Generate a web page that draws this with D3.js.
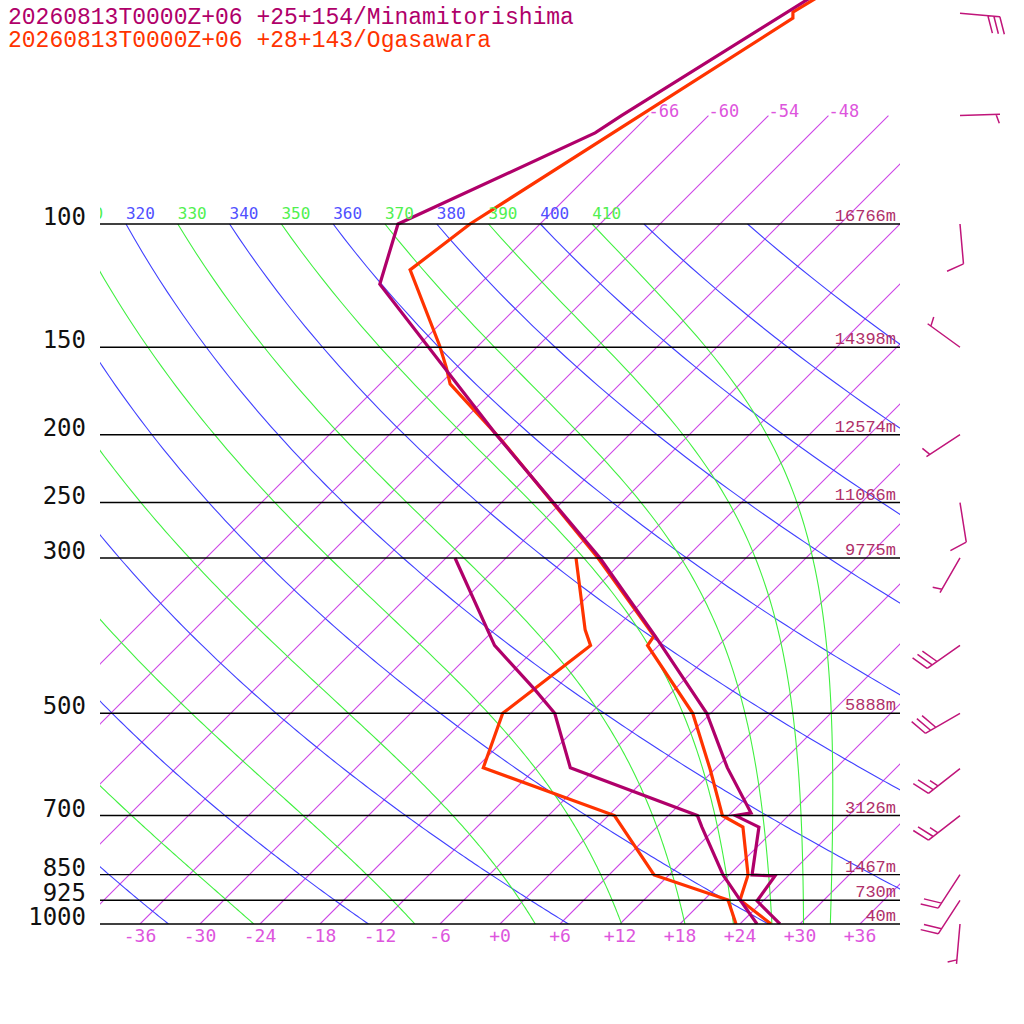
<!DOCTYPE html>
<html><head><meta charset="utf-8">
<script src="https://cdn.jsdelivr.net/npm/d3@7"></script>
<style>body{margin:0;background:#fff}svg{display:block}</style>
</head><body><svg id="c" width="1024" height="1024"></svg>
<script>
// ---- data ----
const titles = ["20260813T0000Z+06 +25+154/Minamitorishima", "20260813T0000Z+06 +28+143/Ogasawara"];
const seriesColors = ["#b0006a", "#ff3300"];
const isobars = [100, 150, 200, 250, 300, 500, 700, 850, 925, 1000];
const heightLevels = [100, 150, 200, 250, 300, 500, 700, 850, 925, 1000];
const heightText = ["16766m", "14398m", "12574m", "11066m", "9775m", "5888m", "3126m", "1467m", "730m", "40m"];
const tempTicks = [-36, -30, -24, -18, -12, -6, 0, 6, 12, 18, 24, 30, 36];
const isotherms = d3.range(-66, 37, 6);
const isothermLabels = [-66, -60, -54, -48];
const dryTheta = [200, 220, 240, 260, 280, 300, 320, 340, 360, 380, 400, 420, 440];
const moistTheta = [230, 250, 270, 290, 310, 330, 350, 370, 390, 410];
const thetaLabels = [310, 320, 330, 340, 350, 360, 370, 380, 390, 400, 410];

// station 1: Minamitorishima
const s1TempP = [46, 70, 74.1, 100, 121.9, 200, 300, 387.7, 500, 598, 694, 700, 727, 851, 854, 927, 1000];
const s1TempT = [-61.0, -68.7, -69.6, -80.2, -76, -49.3, -26.6, -13.3, -0.4, 7.1, 14.0, 12.7, 16.2, 20.3, 22.7, 23.4, 28.0];
const s1DewP = [300, 400, 463, 500, 598, 700, 727, 851, 924, 1000];
const s1DewT = [-41.1, -28.4, -19.9, -15.6, -8.6, 8.9, 10.5, 17.4, 21.6, 25.7];
// station 2: Ogasawara
const s2TempP = [46, 49.8, 50.8, 100, 116.3, 149.1, 160.4, 169.2, 203, 300, 387.7, 400, 500, 602, 700, 727, 851, 924, 1000];
const s2TempT = [-60.3, -61.9, -61.3, -73.0, -74.4, -63.9, -61.0, -59.0, -48.4, -26.8, -13.4, -13.1, -1.8, 5.6, 11.4, 14.6, 19.9, 21.6, 27.1];
const s2DewP = [300, 380, 400, 500, 598, 700, 851, 924, 1000];
const s2DewT = [-29.0, -20.9, -18.8, -20.8, -17.3, 0.6, 10.5, 20.4, 23.6];

// winds (Minamitorishima)
const windP = [50, 70, 100, 150, 200, 250, 300, 400, 500, 600, 700, 850, 925, 1000];
const windDir = [95, 88, 175, 306, 237, 171, 210, 235, 240, 232, 232, 213, 213, 185];
const windSpd = [30, 5, 10, 5, 5, 10, 5, 30, 30, 25, 25, 20, 20, 5];

// ---- scales ----
const X0 = 100, X1 = 900, Y0 = 0, Y1 = 924;
const yScale = d3.scaleLog().domain([1000, 100]).range([924, 224]);
const tScale = d3.scaleLinear().domain([0, 10]).range([500, 600]);
const px = (T, p) => tScale(T) + (924 - yScale(p));
const svg = d3.select("#c");
svg.append("defs").append("clipPath").attr("id", "clip")
  .append("rect").attr("x", X0).attr("y", Y0).attr("width", X1 - X0).attr("height", Y1 - Y0);
const g = svg.append("g").attr("clip-path", "url(#clip)");
const line = d3.line().x(d => px(d[1], d[0])).y(d => yScale(d[0]));

// isotherms
g.selectAll("line.iso").data(isotherms).join("line").attr("class", "iso")
  .attr("x1", T => px(T, 1000)).attr("y1", yScale(1000))
  .attr("x2", T => px(T, 70)).attr("y2", yScale(70))
  .attr("stroke", "rgb(204,68,230)").attr("stroke-width", 1.1);
// dry adiabats
const pLev = d3.range(100, 1001, 5);
dryTheta.forEach(th => {
  const pts = pLev.map(p => [p, th * Math.pow(p / 1000, 0.2857) - 273.15]);
  g.append("path").attr("d", line(pts)).style("stroke", "#4040ff").style("stroke-width", "1.1").style("fill", "none");
});
// moist adiabats
function es(Tc) { return 6.112 * Math.exp(17.67 * Tc / (Tc + 243.5)); }
function dTdp(T, p) {
  const Rd = 287.04, cp = 1005.7, Lv = 2.501e6, eps = 0.622;
  const e = es(T - 273.15), rs = eps * e / (p - e);
  return (Rd * T + Lv * rs) / (p * (cp + Lv * Lv * rs * eps / (Rd * T * T)));
}
moistTheta.forEach(th => {
  let T = th * Math.pow(0.1, 0.2857), p = 100;
  const pts = [[p, T - 273.15]];
  const dp = 1;
  while (p < 1000) {
    const k1 = dTdp(T, p), k2 = dTdp(T + k1 * dp / 2, p + dp / 2),
          k3 = dTdp(T + k2 * dp / 2, p + dp / 2), k4 = dTdp(T + k3 * dp, p + dp);
    T += dp * (k1 + 2 * k2 + 2 * k3 + k4) / 6; p += dp;
    if (p % 5 === 0) pts.push([p, T - 273.15]);
  }
  g.append("path").attr("d", line(pts)).style("stroke", "#40f040").style("stroke-width", "1.1").style("fill", "none");
});
// isobars
isobars.forEach(p => {
  svg.append("line").attr("x1", X0).attr("x2", X1).attr("y1", yScale(p)).attr("y2", yScale(p))
    .style("stroke", "#000").style("stroke-width", "1.4");
  svg.append("text").attr("x", 86).attr("y", yScale(p) + 1).attr("text-anchor", "end")
    .attr("font-family", "DejaVu Sans Mono").attr("font-size", 24).attr("fill", "#111").text(p);
});
heightLevels.forEach((p, i) => {
  svg.append("text").attr("x", 896).attr("y", yScale(p) - 3).attr("text-anchor", "end")
    .attr("font-family", "Liberation Mono").attr("font-size", 17).attr("fill", "#b0306a").text(heightText[i]);
});
// bottom ticks
tempTicks.forEach(T => {
  svg.append("text").attr("x", tScale(T)).attr("y", 942).attr("text-anchor", "middle")
    .attr("font-family", "DejaVu Sans Mono").attr("font-size", 18).attr("fill", "#dd55dd")
    .text((T >= 0 ? "+" : "") + T);
});
// isotherm labels
isothermLabels.forEach(T => {
  svg.append("text").attr("x", px(T, 70)).attr("y", yScale(70) + 1)
    .attr("font-family", "DejaVu Sans Mono").attr("font-size", 17).attr("fill", "#dd55dd").text(T);
});
// theta labels
const lg = svg.append("g").attr("clip-path", "url(#clip)");
thetaLabels.forEach(th => {
  const T = th * Math.pow(0.1, 0.2857) - 273.15;
  lg.append("text").attr("x", px(T, 100)).attr("y", 219)
    .attr("font-family", "DejaVu Sans Mono").attr("font-size", 16)
    .attr("fill", th % 20 === 0 ? "#5050ff" : "#50f050").text(th);
});
// profiles
const prof = [[s1TempP, s1TempT, 0], [s1DewP, s1DewT, 0], [s2TempP, s2TempT, 1], [s2DewP, s2DewT, 1]];
[2, 3, 0, 1].forEach(i => {
  const [P, T, c] = prof[i];
  g.append("path").attr("d", line(P.map((p, j) => [p, T[j]])))
    .style("stroke", seriesColors[c]).style("stroke-width", "3.2").style("fill", "none");
});
// titles
titles.forEach((t, i) => {
  svg.append("text").attr("x", 8).attr("y", 24 + i * 23).attr("font-family", "Liberation Mono")
    .attr("font-size", 23).attr("fill", seriesColors[i]).text(t);
});
// wind barbs
windP.forEach((p, i) => {
  const ox = 960, oy = yScale(p), a = windDir[i] * Math.PI / 180;
  const dx = Math.sin(a), dy = -Math.cos(a), qx = -dy, qy = dx, L = 40;
  let path = `M${ox},${oy}L${ox + dx * L},${oy + dy * L}`;
  let s = windSpd[i], pos = L, first = true;
  while (s >= 10) {
    const bx = ox + dx * pos, by = oy + dy * pos;
    path += `M${bx},${by}L${bx + qx * 17 + dx * 6},${by + qy * 17 + dy * 6}`;
    s -= 10; pos -= 6; first = false;
  }
  if (s >= 5) {
    if (first) pos -= 4;
    const bx = ox + dx * pos, by = oy + dy * pos;
    path += `M${bx},${by}L${bx + qx * 9 + dx * 3},${by + qy * 9 + dy * 3}`;
  }
  svg.append("path").attr("d", path).style("stroke", "#c0157a").style("stroke-width", "1.5").style("fill", "none");
});
</script></body></html>
